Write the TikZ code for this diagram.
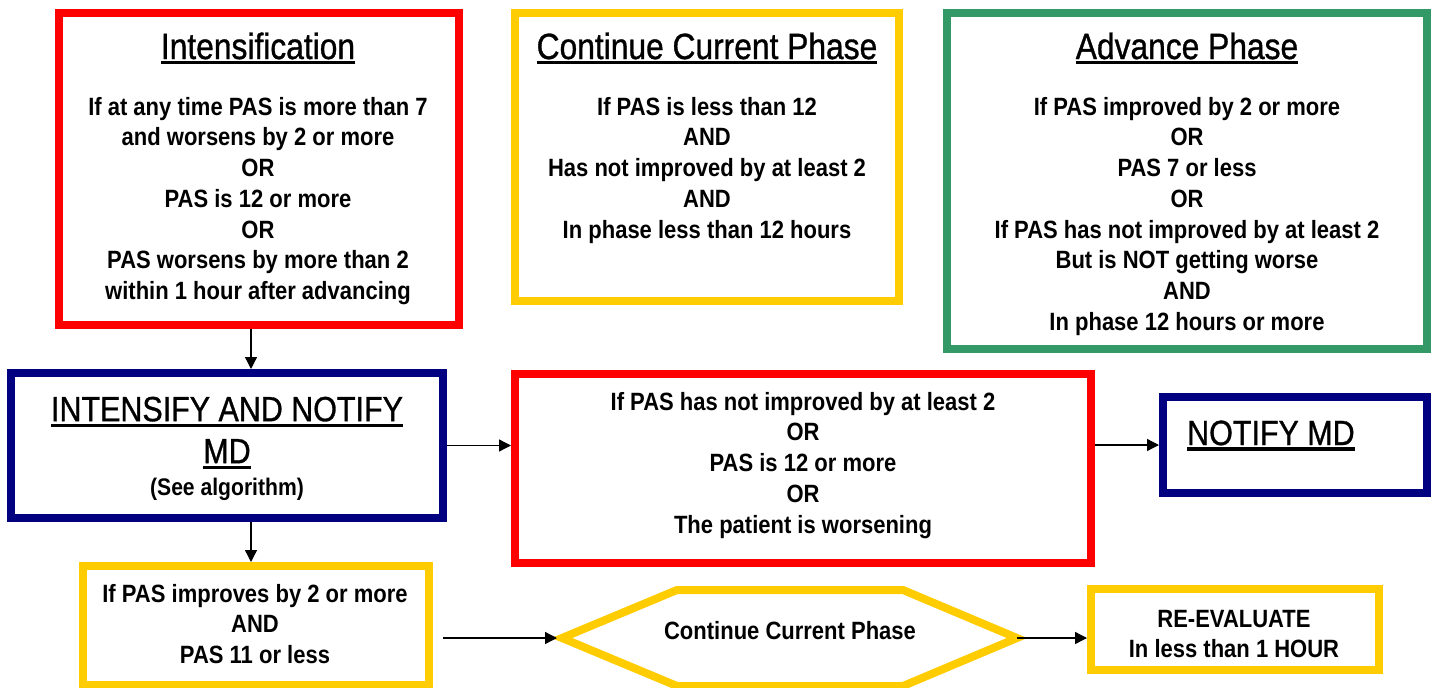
\documentclass[tikz,border=0pt]{standalone}
\usepackage{fontspec}
\setmainfont[FakeStretch=0.88]{Liberation Sans}
\newfontfamily\tfont[FakeStretch=0.87,FakeBold=0.9]{Liberation Sans}
\usetikzlibrary{arrows.meta,calc}
\definecolor{cred}{RGB}{255,0,0}
\definecolor{cyel}{RGB}{255,204,0}
\definecolor{cgrn}{RGB}{51,153,102}
\definecolor{cnavy}{RGB}{0,0,128}
\newcommand\ulx[1]{\setbox0\hbox{#1}\rlap{\rule[-5.5pt]{\wd0}{3.2pt}}\box0}
\newcommand\fst{\rule{0pt}{20pt}}
\newcommand\bst{\rule{0pt}{28pt}}
\tikzset{
  box/.style={draw=#1, line width=8pt, inner sep=0pt},
  ttl/.style={anchor=base, inner sep=0pt, font=\tfont\fontsize{36.5}{42}\selectfont},
  big/.style={inner sep=0pt, align=center, font=\tfont\fontsize{35}{42}\selectfont},
  bod/.style={anchor=north, inner sep=0pt, align=center, font=\fontsize{25}{30.7}\selectfont\bfseries},
  arr/.style={-{Triangle[length=12pt,width=12pt]}, line width=1.3pt, black},
}
\begin{document}
\begin{tikzpicture}[x=1pt,y=-1pt]
\useasboundingbox (0,0) rectangle (1438,688);
% boxes
\node[box=cred, minimum width=400pt, minimum height=312pt] (int) at (259,169) {};
\node[box=cyel, minimum width=384pt, minimum height=288pt] (ccp) at (707,157) {};
\node[box=cgrn, minimum width=480pt, minimum height=336pt] (adv) at (1187,181) {};
\node[box=cnavy, minimum width=432pt, minimum height=145pt] (inm) at (227,445.5) {};
\node[box=cred, minimum width=576pt, minimum height=189pt] (red) at (803,468.5) {};
\node[box=cnavy, minimum width=264pt, minimum height=96pt] (nmd) at (1295,445) {};
\node[box=cyel, minimum width=346pt, minimum height=119pt] (yb) at (256,625.5) {};
\node[box=cyel, minimum width=288pt, minimum height=81pt] (re) at (1235,629.5) {};
% hexagon
\coordinate (hexW) at (562,638);
\coordinate (hexE) at (1017,638);
\draw[cyel, line width=8pt] (hexW) -- (677,590) -- (903,590) -- (hexE) -- (903,686) -- (677,686) -- cycle;
% texts
\node[ttl] (intT) at (258,59) {\ulx{Intensification}};
\node[bod] (intB) at (258,95) {\fst If at any time PAS is more than 7\\and worsens by 2 or more\\OR\\PAS is 12 or more\\OR\\PAS worsens by more than 2\\within 1 hour after advancing};
\node[ttl] (ccpT) at (707,59) {\ulx{Continue Current Phase}};
\node[bod] (ccpB) at (707,95) {\fst If PAS is less than 12\\AND\\Has not improved by at least 2\\AND\\In phase less than 12 hours};
\node[ttl] (advT) at (1187,59) {\ulx{Advance Phase}};
\node[bod] (advB) at (1187,95) {\fst If PAS improved by 2 or more\\OR\\PAS 7 or less\\OR\\If PAS has not improved by at least 2\\But is NOT getting worse\\AND\\In phase 12 hours or more};
\node[big, anchor=north] (inmT) at (227,393) {\bst\ulx{INTENSIFY AND NOTIFY}\\\ulx{MD}\\[-10pt]{\normalfont\fontsize{24}{30}\selectfont\bfseries(See algorithm)}};
\node[bod] (redB) at (803,390) {\fst If PAS has not improved by at least 2\\OR\\PAS is 12 or more\\OR\\The patient is worsening};
\node[big, anchor=base west] (nmdT) at (1187,445) {\ulx{NOTIFY MD}};
\node[bod] (ybB) at (255,582) {\fst If PAS improves by 2 or more\\AND\\PAS 11 or less};
\node[bod, anchor=base] (hexT) at (790,639) {Continue Current Phase};
\node[bod, font=\fontsize{25}{30}\selectfont\bfseries] (reB) at (1234,607) {\fst RE-EVALUATE\\In less than 1 HOUR};
% connectors
\coordinate (ax) at (251,0);
\draw[arr] (int.south -| ax) -- (inm.north -| ax);
\draw[arr] (inm.south -| ax) -- (yb.north -| ax);
\draw[arr] (inm.east) -- (inm.east -| red.west);
\draw[arr] (red.east |- nmd.west) -- (nmd.west);
\draw[arr] ($(yb.east |- hexW)+(10pt,0)$) -- ($(hexW)+(-5pt,0)$);
\draw[arr] (hexE) -- (hexE -| re.west);
\end{tikzpicture}
\end{document}
